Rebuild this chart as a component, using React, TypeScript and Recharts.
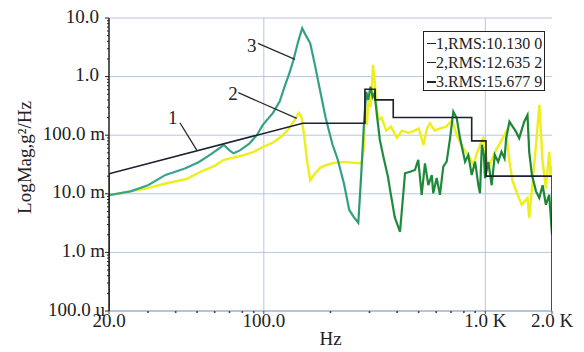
import React from "react";
import { LineChart, Line, XAxis, YAxis, CartesianGrid, ReferenceLine, ReferenceDot } from "recharts";

// axis ticks
const xMajor = [20, 100, 1000, 2000];
const xMajorLabels = ["20.0", "100.0", "1.0 K", "2.0 K"];
const xMinor = [30, 40, 50, 60, 70, 80, 90, 200, 300, 400, 500, 600, 700, 800, 900];
const yMajor = [0.0001, 0.001, 0.01, 0.1, 1, 10];
const yMajorLabels = ["100.0 u", "1.0 m", "10.0 m", "100.0 m", "1.0", "10.0"];
const yMinorMult = [2, 3, 4, 5, 6, 7, 8, 9];

// curve 1 - reference profile
const hz1 = [20, 20, 150, 286, 286, 318, 318, 384, 384, 868, 868, 1007, 1007, 2000, 2000];
const psd1 = [0.0001, 0.022, 0.16, 0.16, 0.61, 0.61, 0.4, 0.4, 0.2, 0.2, 0.08, 0.08, 0.02, 0.02, 0.0001];

// curve 2 - yellow
const hz2 = [20, 25, 30, 36, 45, 52, 60, 66, 72, 80, 90, 100, 110, 120, 130, 140, 144, 148, 152, 157, 162, 170, 180, 192, 210, 230, 250, 276, 282, 287, 292, 298, 304, 311, 316, 320, 328, 340, 357, 375, 399, 420, 450, 480, 500, 526, 545, 563, 590, 620, 665, 708, 743, 795, 840, 885, 910, 950, 978, 1032, 1100, 1180, 1242, 1285, 1329, 1400, 1460, 1550, 1578, 1640, 1694, 1753, 1814, 1877, 1943, 1970, 2000];
const psd2 = [0.0095, 0.011, 0.0125, 0.015, 0.018, 0.024, 0.03, 0.038, 0.041, 0.045, 0.052, 0.064, 0.075, 0.095, 0.13, 0.2, 0.24, 0.2, 0.1, 0.035, 0.017, 0.022, 0.028, 0.031, 0.034, 0.035, 0.034, 0.033, 0.056, 0.3, 0.15, 0.5, 0.3, 1.58, 0.9, 0.5, 0.18, 0.2, 0.12, 0.14, 0.09, 0.12, 0.11, 0.12, 0.13, 0.068, 0.13, 0.16, 0.12, 0.13, 0.14, 0.18, 0.1, 0.06, 0.045, 0.031, 0.046, 0.07, 0.089, 0.027, 0.05, 0.08, 0.115, 0.035, 0.0163, 0.0096, 0.0065, 0.0085, 0.0039, 0.0184, 0.068, 0.33, 0.035, 0.0124, 0.052, 0.021, 0.03];

// curve 3 - green
const hz3 = [20, 25, 30, 36, 44, 51, 58, 66, 70, 73, 78, 86, 93, 99, 110, 118, 124, 130, 136, 143, 149, 155, 162, 170, 178, 190, 204, 215, 230, 243, 255, 267, 275, 283, 290, 296, 303, 310, 316, 325, 334, 348, 364, 371, 390, 412, 434, 457, 481, 498, 516, 534, 553, 573, 582, 603, 624, 646, 669, 693, 717, 743, 769, 810, 838, 868, 899, 930, 946, 965, 985, 997, 1032, 1068, 1104, 1143, 1183, 1221, 1242, 1285, 1329, 1375, 1422, 1498, 1550, 1578, 1623, 1694, 1753, 1814, 1877, 1943, 2000];
const psd3 = [0.0095, 0.011, 0.014, 0.021, 0.027, 0.035, 0.048, 0.068, 0.055, 0.049, 0.055, 0.072, 0.1, 0.15, 0.24, 0.38, 0.67, 1.1, 1.9, 4.0, 6.7, 5.0, 3.7, 1.6, 0.67, 0.2, 0.07, 0.04, 0.015, 0.0053, 0.004, 0.0032, 0.02, 0.15, 0.55, 0.4, 0.67, 0.45, 0.52, 0.2, 0.083, 0.04, 0.019, 0.012, 0.004, 0.00225, 0.0224, 0.0238, 0.0255, 0.0378, 0.0096, 0.0331, 0.0141, 0.0209, 0.0102, 0.0186, 0.0096, 0.029, 0.0353, 0.0885, 0.252, 0.194, 0.0885, 0.0353, 0.046, 0.0209, 0.0353, 0.0141, 0.0102, 0.0685, 0.046, 0.0184, 0.035, 0.014, 0.046, 0.035, 0.052, 0.04, 0.089, 0.17, 0.14, 0.115, 0.089, 0.17, 0.22, 0.052, 0.021, 0.011, 0.0085, 0.014, 0.0065, 0.0096, 0.002];

const legendItems = ["1,RMS:10.130 0", "2,RMS:12.635 2", "3.RMS:15.677 9"];
const legendWidths = [1.2, 1.2, 2.2];

// callout labels: [text, labelHz, labelVal, fromHz, fromVal, toHz, toVal]
const callouts: [string, number, number, number, number, number, number][] = [
  ["1", 38.8, 0.202, 41.8, 0.163, 49.8, 0.0558],
  ["2", 72.6, 0.525, 76.7, 0.531, 140.8, 0.194],
  ["3", 88.1, 3.46, 94.1, 3.7, 138.3, 1.97],
];

const toPoints = (hz: number[], val: number[]) => hz.map((f, i) => ({ hz: f, v: val[i] }));
const yMinor = yMajor.slice(0, -1).flatMap((d) => yMinorMult.map((m) => d * m));

const FONT = "'Liberation Serif', 'Times New Roman', serif";
const GRID = "#b7c5dd";

const XTick = (props: any) => {
  const { x, y, payload } = props;
  const i = xMajor.indexOf(payload.value);
  return (
    <g>
      <line x1={x} x2={x} y1={y} y2={y + (i >= 0 ? 3 : 2)} stroke="#445" strokeWidth={i >= 0 ? 1 : 1.6} />
      {i >= 0 && (
        <text x={x} y={y + 16} textAnchor="middle" fontSize={19} fontFamily={FONT} fill="#222">
          {xMajorLabels[i]}
        </text>
      )}
    </g>
  );
};

const YTick = (props: any) => {
  const { x, y, payload } = props;
  const i = yMajor.indexOf(payload.value);
  const label = i >= 0 ? yMajorLabels[i] : "";
  const shift = label.includes(" ") ? 4 : 10;
  return (
    <g>
      <line x1={x - (i >= 0 ? 4 : 2)} x2={x} y1={y} y2={y} stroke="#222" strokeWidth={1} />
      {i >= 0 && (
        <text x={x - shift} y={y - 2} dy="0.35em" textAnchor="end" fontSize={19} fontFamily={FONT} fill="#222">
          {label}
        </text>
      )}
    </g>
  );
};

export default function App() {
  return (
    <div style={{ position: "fixed", left: 0, top: 0, width: 584, height: 352, background: "#fff" }}>
      <LineChart width={584} height={352} margin={{ top: 18, right: 32, bottom: 0, left: 0 }}>
        <defs>
          <linearGradient id="green3" x1="0" y1="0" x2="1" y2="0">
            <stop offset="0" stopColor="#3aa58d" />
            <stop offset="0.55" stopColor="#31a086" />
            <stop offset="0.6" stopColor="#1f8c3e" />
            <stop offset="1" stopColor="#1b8633" />
          </linearGradient>
        </defs>
        <CartesianGrid stroke={GRID} strokeWidth={1} horizontalValues={yMajor} verticalValues={[100, 1000]} />
        <XAxis
          dataKey="hz"
          type="number"
          scale="log"
          domain={[20, 2000]}
          allowDataOverflow
          ticks={[...xMajor, ...xMinor]}
          interval={0}
          height={41}
          tickSize={0}
          tickMargin={0}
          tickLine={false}
          tick={<XTick />}
          stroke="#8fa3c7"
          label={(p: any) => {
            const vb = p.viewBox;
            return (
              <text x={vb.x + vb.width / 2} y={vb.y + 34} textAnchor="middle" fontSize={19} fontFamily={FONT} fill="#222">
                Hz
              </text>
            );
          }}
        />
        <YAxis
          dataKey="v"
          type="number"
          scale="log"
          domain={[0.0001, 10]}
          allowDataOverflow
          ticks={[...yMajor, ...yMinor]}
          interval={0}
          width={109}
          tickSize={0}
          tickMargin={0}
          tickLine={false}
          tick={<YTick />}
          stroke="#222"
          strokeWidth={1.5}
          label={(p: any) => {
            const vb = p.viewBox;
            const cx = vb.x + 24;
            const cy = vb.y + vb.height / 2 - 7;
            return (
              <text x={cx} y={cy} transform={`rotate(-90 ${cx} ${cy})`} textAnchor="middle" dy="0.35em" fontSize={19} fontFamily={FONT} fill="#222">
                LogMag,g²/Hz
              </text>
            );
          }}
        />
        <Line data={toPoints(hz2, psd2)} dataKey="v" stroke="#eeee1a" strokeWidth={2.4} dot={false} isAnimationActive={false} />
        <Line data={toPoints(hz3, psd3)} dataKey="v" stroke="url(#green3)" strokeWidth={2.2} dot={false} isAnimationActive={false} />
        <Line data={toPoints(hz1, psd1)} dataKey="v" stroke="#1c2030" strokeWidth={1.6} dot={false} isAnimationActive={false} />
        {callouts.map(([t, lx, ly, x1, y1, x2, y2]) => (
          <ReferenceLine key={"l" + t} segment={[{ x: x1, y: y1 }, { x: x2, y: y2 }]} stroke="#2a2a2a" strokeWidth={1.3} />
        ))}
        {callouts.map(([t, lx, ly]) => (
          <ReferenceDot
            key={"d" + t}
            x={lx}
            y={ly}
            r={0}
            stroke="none"
            fill="none"
            label={{ value: t, position: "center", fontSize: 19, fontFamily: FONT, fill: "#222" }}
          />
        ))}
      </LineChart>
      <div
        style={{
          position: "absolute",
          left: 423,
          top: 31,
          width: 120,
          height: 56,
          border: "1.5px solid #222",
          background: "#fff",
          fontFamily: FONT,
          fontSize: 16,
          color: "#222",
          lineHeight: "19px",
          paddingTop: 2,
          boxSizing: "content-box",
        }}
      >
        {legendItems.map((t, i) => (
          <div key={t} style={{ display: "flex", alignItems: "center", whiteSpace: "nowrap" }}>
            <span style={{ display: "inline-block", width: 9, marginLeft: 3, borderTop: `${legendWidths[i]}px solid #222` }} />
            <span>{t}</span>
          </div>
        ))}
      </div>
    </div>
  );
}
